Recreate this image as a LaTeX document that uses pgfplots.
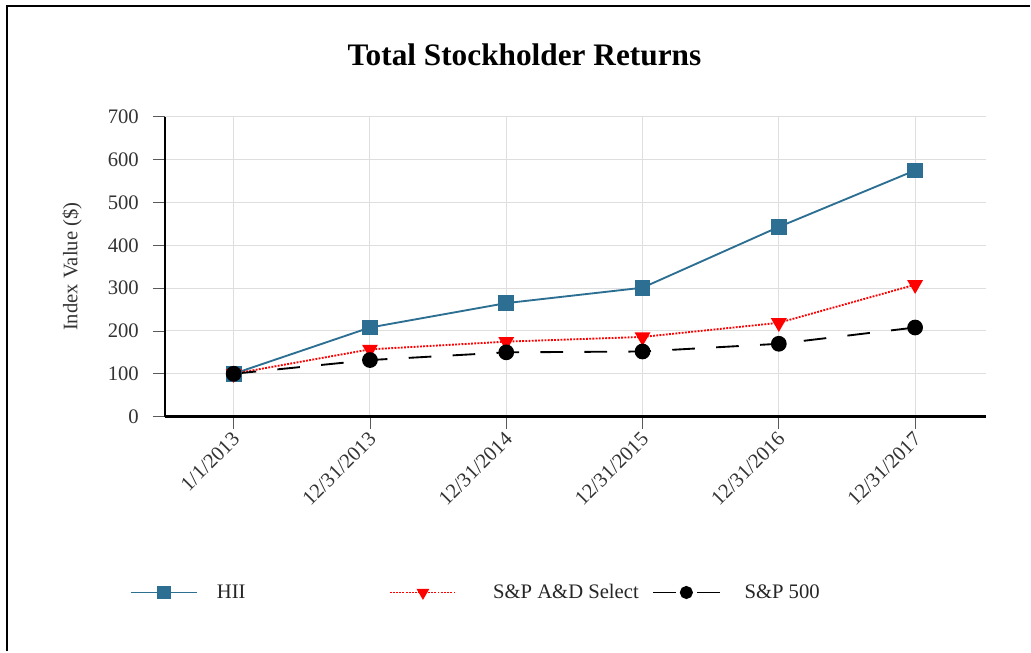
\documentclass[border=0pt]{standalone}
\usepackage{fontspec}
\setmainfont{Liberation Serif}
\usepackage{pgfplots}
\pgfplotsset{compat=1.18}
\definecolor{hiiblue}{RGB}{44,111,146}
\definecolor{gridgray}{RGB}{222,222,222}
\begin{document}
\begin{tikzpicture}[x=0.75pt,y=0.75pt]
\path (0,0) rectangle (1031,652);
\draw[line width=1.6pt] (7,0) -- (7,646) -- (1031,646);
\node[font=\fontsize{23.5}{28}\selectfont\bfseries] at (525,597) {Total Stockholder Returns};
\begin{axis}[
  at={(123.75pt,176.25pt)}, anchor=south west,
  scale only axis, width=616.5pt, height=225pt,
  xmin=-0.505, xmax=5.52, ymin=0, ymax=700,
  ytick={0,100,...,700},
  xtick={0,1,2,3,4,5},
  xticklabels={1/1/2013,12/31/2013,12/31/2014,12/31/2015,12/31/2016,12/31/2017},
  axis x line*=bottom, axis y line*=left,
  axis line style={line width=1.9pt, black, -},
  tick align=outside,
  major tick length=9pt,
  every tick/.style={gray!70!black, line width=0.6pt},
  grid=major,
  major grid style={gridgray, line width=0.8pt},
  /pgf/number format/assume math mode=true,
  tick label style={font=\fontsize{15.5}{18}\selectfont, text=black!80},
  yticklabel style={xshift=-7pt},
  xticklabel style={rotate=45, anchor=east, xshift=1pt, yshift=-5pt},
  ylabel={Index Value (\$)},
  ylabel style={at={(axis description cs:-0.113,0.5)}, anchor=center, font=\fontsize{15.5}{18}\selectfont, text=black!80},
  legend columns=3,
  legend style={at={(axis description cs:-0.043,-0.587)}, anchor=west, draw=none, fill=none,
    font=\fontsize{15.5}{18}\selectfont, text=black!85, inner sep=0pt,
    /tikz/every odd column/.append style={column sep=12pt},
    /tikz/every even column/.append style={column sep=8pt}},
  legend cell align=left,
  legend image code/.code={\draw[mark repeat=2,mark phase=2,#1,mark size=4.2pt] plot coordinates {(0pt,0pt) (25pt,0pt) (50pt,0pt)};},
]
\addplot[hiiblue, line width=1.4pt, mark=square*, mark size=5.2pt, mark options={solid, fill=hiiblue}]
  coordinates {(0,100) (1,208) (2,265) (3,301) (4,443) (5,575)};
\addlegendentry{\makebox[119pt][l]{HII}}
\addplot[red, line width=1.4pt, densely dotted, mark=triangle*, mark size=5.5pt, mark options={solid, rotate=180, fill=red}]
  coordinates {(0,100) (1,157) (2,175) (3,186) (4,219) (5,308)};
\addlegendentry{\hspace*{13pt}S\&P A\&D Select}
\addplot[black, line width=1.4pt, dash pattern=on 17pt off 16pt, mark=*, mark size=5.2pt, mark options={solid, fill=black}]
  coordinates {(0,100) (1,132) (2,150) (3,152) (4,170) (5,208)};
\addlegendentry{\hspace*{4pt}S\&P 500}
\end{axis}
\end{tikzpicture}
\end{document}
